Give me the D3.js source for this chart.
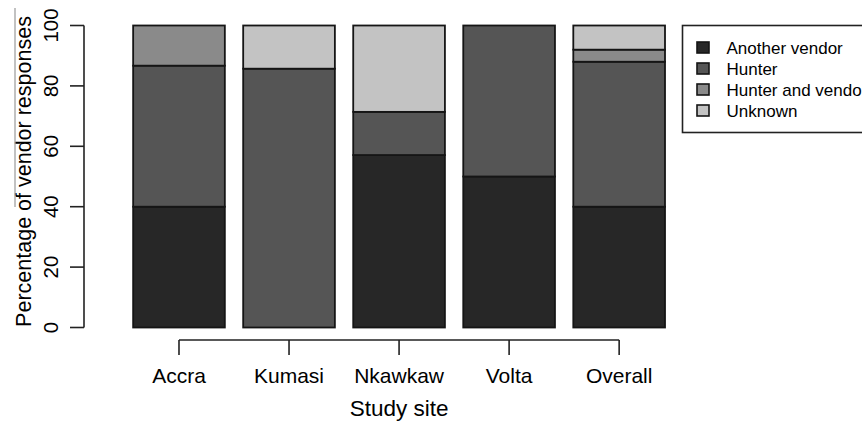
<!DOCTYPE html>
<html>
<head>
<meta charset="utf-8">
<script src="https://cdn.jsdelivr.net/npm/d3@7"></script>
<style>
  html, body { margin: 0; padding: 0; background: #fff; }
  text { font-family: "Liberation Sans", Arial, Helvetica, sans-serif; fill: #000; }
</style>
</head>
<body>
<svg id="chart" width="862" height="426"></svg>
<script>
// ---- data ----
const sites = ["Accra", "Kumasi", "Nkawkaw", "Volta", "Overall"];
const seriesNames = ["Another vendor", "Hunter", "Hunter and vendor", "Unknown"];
const anotherVendor   = [40.0,  0.0, 57.1, 50.0, 40.0];
const hunter          = [46.7, 85.7, 14.3, 50.0, 48.0];
const hunterAndVendor = [13.3,  0.0,  0.0,  0.0,  4.0];
const unknown         = [ 0.0, 14.3, 28.6,  0.0,  8.0];
const yTicks = [0, 20, 40, 60, 80, 100];
const fills = ["#272727", "#555555", "#8a8a8a", "#c3c3c3"];

const seriesValues = [anotherVendor, hunter, hunterAndVendor, unknown];
const table = sites.map((s, i) => {
  const row = { site: s, idx: i };
  seriesNames.forEach((n, k) => row[n] = seriesValues[k][i]);
  return row;
});

const svg = d3.select("#chart");

// R barplot style positions: bar i spans [0.2 + 1.2 i, 1.2 + 1.2 i]
const x = d3.scaleLinear().domain([0, 6]).range([114.8, 114.8 + 6 * 91.7]);
const y = d3.scaleLinear().domain([0, 100]).range([327.5, 25.5]);

const stacked = d3.stack().keys(seriesNames)(table);

// bars
const gBars = svg.append("g");
stacked.forEach((layer, k) => {
  gBars.selectAll(null)
    .data(layer.filter(d => d[1] - d[0] > 0))
    .enter().append("rect")
    .attr("x", d => x(0.2 + 1.2 * d.data.idx))
    .attr("width", d => x(1.2 + 1.2 * d.data.idx) - x(0.2 + 1.2 * d.data.idx))
    .attr("y", d => y(d[1]))
    .attr("height", d => y(d[0]) - y(d[1]))
    .attr("fill", fills[k])
    .attr("stroke", "#151515")
    .attr("stroke-width", 1.8);
});

// y axis (R style)
const gy = svg.append("g").attr("transform", "translate(84,0)");
gy.append("line")
  .attr("x1", 0).attr("x2", 0)
  .attr("y1", y(0)).attr("y2", y(100))
  .attr("stroke", "#222").attr("stroke-width", 1.6);
gy.selectAll(".tk").data(yTicks).enter().append("line")
  .attr("x1", -14).attr("x2", 0)
  .attr("y1", d => y(d)).attr("y2", d => y(d))
  .attr("stroke", "#222").attr("stroke-width", 1.6);
svg.selectAll(".ytl").data(yTicks).enter().append("text")
  .attr("transform", d => `translate(57.5,${y(d)}) rotate(-90)`)
  .attr("text-anchor", "middle")
  .style("font-size", "20.5px")
  .text(d => d);

// y title
svg.append("text")
  .attr("transform", "translate(30.5,171.5) rotate(-90)")
  .attr("text-anchor", "middle")
  .style("font-size", "21.5px")
  .text("Percentage of vendor responses");

// faint scan artifact line beside the y title
svg.append("line")
  .attr("x1", 15).attr("x2", 15).attr("y1", 8).attr("y2", 207)
  .attr("stroke", "#999").attr("stroke-width", 1.2);

// x axis (R style)
const centers = sites.map((s, i) => x(0.7 + 1.2 * i));
const gx = svg.append("g");
gx.append("line")
  .attr("x1", centers[0]).attr("x2", centers[centers.length - 1])
  .attr("y1", 340).attr("y2", 340)
  .attr("stroke", "#222").attr("stroke-width", 1.6);
gx.selectAll(".xt").data(sites).enter().append("line")
  .attr("x1", (d, i) => centers[i]).attr("x2", (d, i) => centers[i])
  .attr("y1", 340).attr("y2", 355)
  .attr("stroke", "#222").attr("stroke-width", 1.6);
gx.selectAll(".xl").data(sites).enter().append("text")
  .attr("x", (d, i) => centers[i]).attr("y", 383)
  .attr("text-anchor", "middle")
  .style("font-size", "21px")
  .text(d => d);

svg.append("text")
  .attr("x", (centers[0] + centers[4]) / 2).attr("y", 416)
  .attr("text-anchor", "middle")
  .style("font-size", "22.5px")
  .text("Study site");

// legend
const lg = svg.append("g");
lg.append("rect")
  .attr("x", 682.5).attr("y", 25.5).attr("width", 220).attr("height", 107)
  .attr("fill", "none").attr("stroke", "#222").attr("stroke-width", 1.6);
seriesNames.forEach((n, k) => {
  const cy = 47.5 + 21 * k;
  lg.append("rect")
    .attr("x", 697).attr("y", cy - 5.5).attr("width", 12).attr("height", 11)
    .attr("fill", fills[k]).attr("stroke", "#151515").attr("stroke-width", 1.6);
  lg.append("text")
    .attr("x", 726.5).attr("y", cy + 6)
    .style("font-size", "17px")
    .text(n);
});
</script>
</body>
</html>
